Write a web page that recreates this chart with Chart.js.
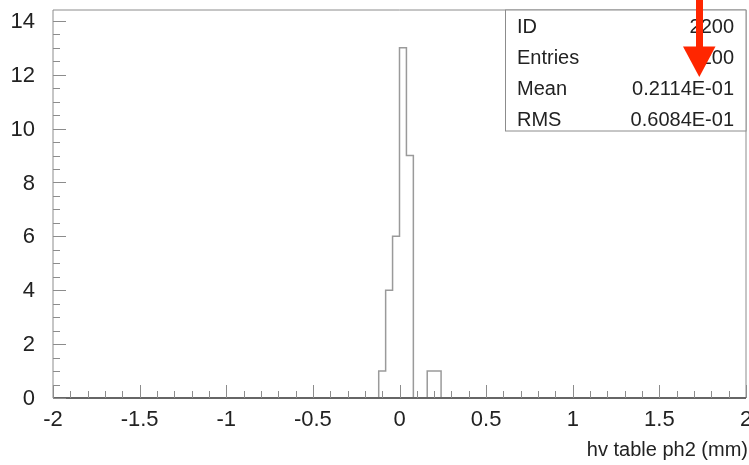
<!DOCTYPE html>
<html>
<head>
<meta charset="utf-8">
<script src="https://cdn.jsdelivr.net/npm/chart.js@4/dist/chart.umd.min.js"></script>
<style>
  html, body { margin: 0; padding: 0; background: #fff; }
  canvas { display: block; }
</style>
</head>
<body>
<canvas id="c" width="749" height="465"></canvas>
<script>
// Histogram contents: lower bin edges (width 0.04) and counts
const binLow   = [-0.12, -0.08, -0.04, 0.00, 0.04, 0.08, 0.12, 0.16, 0.20];
const binCount = [1, 4, 6, 13, 9, 0, 0, 1, 1];
const binWidth = 0.04;

// Axis ticks
const xTicks      = [-2, -1.5, -1, -0.5, 0, 0.5, 1, 1.5, 2];
const xTickLabels = ['-2', '-1.5', '-1', '-0.5', '0', '0.5', '1', '1.5', '2'];
const yTicks      = [0, 2, 4, 6, 8, 10, 12, 14];
const yTickLabels = ['0', '2', '4', '6', '8', '10', '12', '14'];

// Statistics box
const statNames  = ['ID', 'Entries', 'Mean', 'RMS'];
const statValues = ['2200', '200', '0.2114E-01', '0.6084E-01'];

const xTitle = 'hv table ph2 (mm)';

// Outline of the histogram as a step polyline
const outline = [{ x: binLow[0], y: 0 }];
binLow.forEach((lo, i) => {
  outline.push({ x: lo, y: binCount[i] });
  outline.push({ x: lo + binWidth, y: binCount[i] });
});
outline.push({ x: binLow[binLow.length - 1] + binWidth, y: 0 });

const FONT = '"Liberation Sans", Arial, sans-serif';

const framePlugin = {
  id: 'frame',
  afterDraw(chart) {
    const { ctx, chartArea: a, scales: { x, y } } = chart;
    ctx.save();

    // frame
    ctx.strokeStyle = '#8c8c8c';
    ctx.lineWidth = 1;
    ctx.beginPath();
    ctx.moveTo(a.left, a.bottom);
    ctx.lineTo(a.left, a.top);
    ctx.lineTo(a.right, a.top);
    ctx.lineTo(a.right, a.bottom);
    ctx.stroke();
    ctx.strokeStyle = '#666';
    ctx.lineWidth = 2;
    ctx.beginPath();
    ctx.moveTo(a.left, a.bottom);
    ctx.lineTo(a.right, a.bottom);
    ctx.stroke();

    // inward ticks
    ctx.strokeStyle = '#8c8c8c';
    ctx.lineWidth = 1;
    ctx.beginPath();
    for (let k = 0; k <= 40; k++) {
      const v = -2 + k * 0.1;
      const px = Math.round(x.getPixelForValue(v)) + 0.5;
      const len = (k % 5 === 0) ? 13 : 7;
      ctx.moveTo(px, a.bottom);
      ctx.lineTo(px, a.bottom - len);
    }
    for (let k = 0; k <= 28; k++) {
      const v = k * 0.5;
      const py = Math.round(y.getPixelForValue(v)) + 0.5;
      const len = (k % 4 === 0) ? 13 : 7;
      ctx.moveTo(a.left, py);
      ctx.lineTo(a.left + len, py);
    }
    ctx.stroke();

    // tick labels
    ctx.fillStyle = '#222';
    ctx.font = '22px ' + FONT;
    ctx.textAlign = 'center';
    ctx.textBaseline = 'alphabetic';
    xTicks.forEach((v, i) => ctx.fillText(xTickLabels[i], x.getPixelForValue(v), 426));
    ctx.textAlign = 'right';
    ctx.textBaseline = 'middle';
    yTicks.forEach((v, i) => ctx.fillText(yTickLabels[i], 35, y.getPixelForValue(v) + 1));

    // axis title
    ctx.font = '20px ' + FONT;
    ctx.textAlign = 'right';
    ctx.textBaseline = 'alphabetic';
    ctx.fillText(xTitle, 748, 456);

    // statistics box
    ctx.fillStyle = '#fff';
    ctx.fillRect(505.5, a.top, a.right - 505.5, 121);
    ctx.strokeStyle = '#8c8c8c';
    ctx.lineWidth = 1;
    ctx.strokeRect(505.5, a.top, a.right - 505.5, 121);
    ctx.fillStyle = '#222';
    ctx.font = '20px ' + FONT;
    ctx.textBaseline = 'middle';
    statNames.forEach((n, i) => {
      const ty = 27 + i * 31;
      ctx.textAlign = 'left';
      ctx.fillText(n, 517, ty);
      ctx.textAlign = 'right';
      ctx.fillText(statValues[i], 734, ty);
    });

    // red pointer arrow
    ctx.fillStyle = '#ff2600';
    ctx.fillRect(696, 0, 7, 48);
    ctx.beginPath();
    ctx.moveTo(683, 46.5);
    ctx.lineTo(715.5, 46.5);
    ctx.lineTo(699.3, 77);
    ctx.closePath();
    ctx.fill();

    ctx.restore();
  }
};

new Chart(document.getElementById('c'), {
  type: 'line',
  data: {
    datasets: [{
      data: outline,
      borderColor: '#9a9a9a',
      borderWidth: 1.5,
      pointRadius: 0,
      tension: 0,
      fill: false
    }]
  },
  options: {
    responsive: false,
    animation: false,
    layout: { padding: { left: 53, top: 10, right: 3, bottom: 67 } },
    scales: {
      x: { type: 'linear', min: -2, max: 2, display: false },
      y: { type: 'linear', min: 0, max: 14.4, display: false }
    },
    plugins: { legend: { display: false }, tooltip: { enabled: false } }
  },
  plugins: [framePlugin]
});
</script>
</body>
</html>
